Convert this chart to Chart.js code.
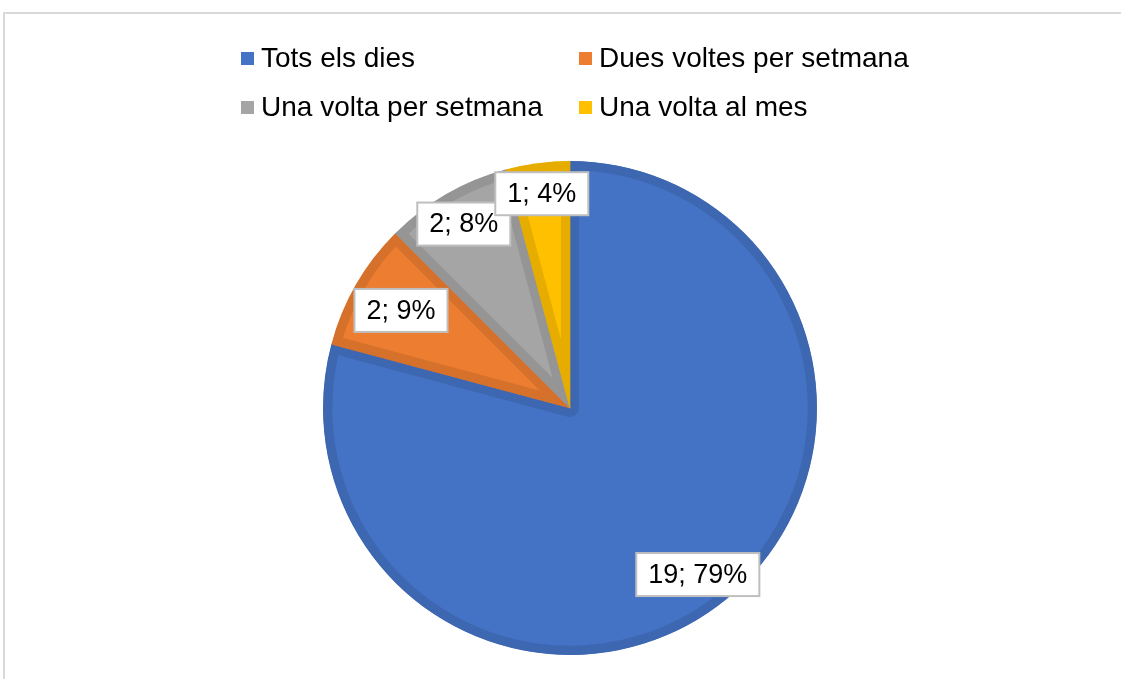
<!DOCTYPE html>
<html>
<head>
  <title>Freqüència</title>
  <style>
    html, body {
      margin: 0;
      padding: 0;
      width: 1121px;
      height: 679px;
      overflow: hidden;
      background: #fff;
      font-family: "Liberation Sans", Arial, sans-serif;
    }
    #frame {
      position: absolute;
      left: 3px;
      top: 12px;
      width: 1300px;
      height: 800px;
      border-left: 2px solid #d9d9d9;
      border-top: 2px solid #d9d9d9;
    }
    #pie {
      position: absolute;
      left: 0;
      top: 0;
    }
    #legend {
      position: absolute;
      left: 241px;
      top: 41px;
      display: grid;
      grid-template-columns: 338px auto;
      row-gap: 15px;
      font-size: 28px;
      color: #000;
    }
    .item {
      display: flex;
      align-items: center;
      height: 34px;
      white-space: nowrap;
    }
    .swatch {
      width: 13px;
      height: 13px;
      margin-right: 7px;
      flex: none;
    }
  </style>
</head>
<body>
  <div id="frame"></div>
  <canvas id="pie" width="1121" height="679"></canvas>
  <div id="legend"></div>

  <script src="https://cdn.jsdelivr.net/npm/chart.js"></script>
  <script>
    const categories = ["Tots els dies", "Dues voltes per setmana", "Una volta per setmana", "Una volta al mes"];
    const counts = [19, 2, 2, 1];
    const percents = [79, 9, 8, 4];

    const fillColors = ["#4472c4", "#ed7d31", "#a5a5a5", "#ffc000"];
    const edgeColors = ["#3e67b1", "#d6712c", "#959595", "#e6ad00"];

    // where each data label sits, as a fraction of the radius
    const labelRadius = [0.85, 0.79, 0.86, 0.875];

    // legend (two columns, like the original)
    const legend = document.getElementById("legend");
    categories.forEach((name, i) => {
      const item = document.createElement("div");
      item.className = "item";
      item.innerHTML = '<span class="swatch" style="background:' + fillColors[i] + '"></span>' + name;
      legend.appendChild(item);
    });

    const boxLabels = {
      id: "boxLabels",
      afterDatasetsDraw(chart) {
        const ctx = chart.ctx;
        const arcs = chart.getDatasetMeta(0).data;
        ctx.save();
        ctx.font = '27px "Liberation Sans", Arial, sans-serif';
        ctx.textAlign = "center";
        ctx.textBaseline = "middle";
        arcs.forEach((arc, i) => {
          const mid = (arc.startAngle + arc.endAngle) / 2;
          const r = arc.outerRadius * labelRadius[i];
          const x = arc.x + Math.cos(mid) * r;
          const y = arc.y + Math.sin(mid) * r;
          const text = counts[i] + "; " + percents[i] + "%";
          const w = ctx.measureText(text).width + 24;
          const h = 43;
          ctx.fillStyle = "#fff";
          ctx.fillRect(x - w / 2, y - h / 2, w, h);
          ctx.strokeStyle = "#bfbfbf";
          ctx.lineWidth = 2;
          ctx.strokeRect(x - w / 2, y - h / 2, w, h);
          ctx.fillStyle = "#000";
          ctx.fillText(text, x, y + 1);
        });
        ctx.restore();
      }
    };

    new Chart(document.getElementById("pie"), {
      type: "pie",
      data: {
        labels: categories,
        datasets: [{
          data: counts,
          backgroundColor: fillColors,
          borderColor: edgeColors,
          borderWidth: 9,
          borderAlign: "inner",
          hoverBorderWidth: 9
        }]
      },
      options: {
        responsive: false,
        animation: false,
        layout: {
          padding: { left: 323, right: 304, top: 161, bottom: 24 }
        },
        plugins: {
          legend: { display: false },
          tooltip: { enabled: false }
        }
      },
      plugins: [boxLabels]
    });
  </script>
</body>
</html>
